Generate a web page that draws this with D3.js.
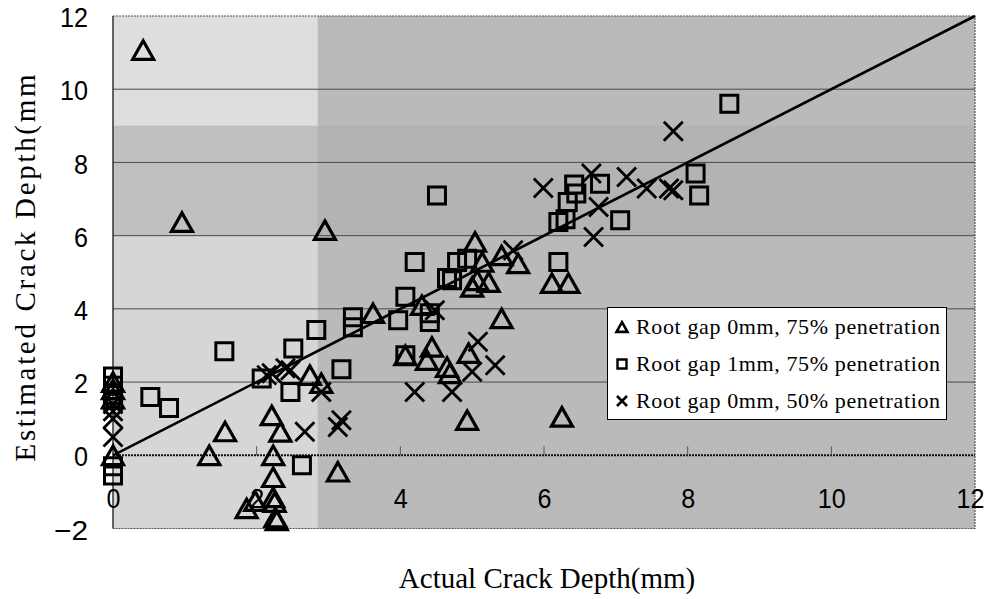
<!DOCTYPE html>
<html>
<head>
<meta charset="utf-8">
<script src="https://cdn.jsdelivr.net/npm/d3@7/dist/d3.min.js"></script>
<style>
body { margin: 0; background: #fff; }
.num { font-family: "Liberation Sans", Arial, sans-serif; font-size: 28px; fill: #000; }
.ser { font-family: "Liberation Serif", "Times New Roman", serif; fill: #000; }
</style>
</head>
<body>
<div id="chart"></div>
<script>
// axis ticks
var xTicks = [0, 2, 4, 6, 8, 10, 12];
var yTicks = [-2, 0, 2, 4, 6, 8, 10, 12];
var gridY = [2, 4, 6, 8, 10];

var xTitle = "Actual Crack Depth(mm)";
var yTitle = "Estimated Crack Depth(mm";
var seriesNames = ["Root gap 0mm, 75% penetration", "Root gap 1mm, 75% penetration", "Root gap 0mm, 50% penetration"];

// Root gap 0mm, 75% penetration (triangles)
var gap0p75 = [
	[0.42, 11.07], [0.96, 6.37], [2.95, 6.15],
	[0, 2.0], [0, 1.8], [0, 1.55], [0, 0],
	[1.56, 0.65], [1.34, 0.0], [2.21, 1.09], [2.33, 0.64], [2.23, 0.0], [2.23, -0.6],
	[2.23, -1.15], [2.25, -1.28], [2.26, -1.7], [2.28, -1.78], [1.86, -1.45], [1.98, -1.25],
	[2.74, 2.19], [2.9, 1.97], [3.13, -0.45], [3.62, 3.88],
	[5.04, 5.83], [5.14, 5.28], [5.07, 4.78], [5.0, 4.6], [5.23, 4.73], [5.41, 5.46], [5.64, 5.24],
	[6.11, 4.7], [6.34, 4.7], [4.3, 4.1], [5.41, 3.74],
	[4.07, 2.73], [4.44, 2.96], [4.37, 2.6], [4.65, 2.41], [4.69, 2.24], [4.95, 2.79],
	[4.93, 0.96], [6.25, 1.05]
];

// Root gap 1mm, 75% penetration (squares)
var gap1p75 = [
	[0, 2.15], [0, 1.9], [0, 1.65], [0, -0.3], [0, -0.55],
	[0.52, 1.59], [0.78, 1.29], [1.55, 2.84], [2.63, -0.27], [2.47, 1.73], [2.51, 2.92],
	[2.83, 3.42], [3.18, 2.35], [3.34, 3.77], [3.34, 3.5], [2.07, 2.1],
	[4.51, 7.1], [6.42, 7.4], [6.45, 7.15], [6.78, 7.42], [6.33, 6.92], [6.2, 6.37], [6.3, 6.45], [7.06, 6.42],
	[8.58, 9.6], [8.11, 7.7], [8.16, 7.1],
	[4.2, 5.28], [4.93, 5.37], [4.79, 5.28], [4.65, 4.84], [4.72, 4.78], [6.2, 5.28],
	[4.07, 4.33], [3.97, 3.69], [4.41, 3.88], [4.41, 3.64], [4.07, 2.73]
];

// Root gap 0mm, 50% penetration (crosses)
var gap0p50 = [
	[0, 1.4], [0, 1.2], [0, 1.0], [0, 0.5],
	[2.14, 2.19], [2.21, 2.24], [2.4, 2.38], [2.47, 2.32], [2.9, 1.73],
	[2.67, 0.64], [3.13, 0.77], [3.18, 0.96],
	[5.99, 7.3], [6.76, 6.78], [6.69, 5.96], [7.8, 8.85],
	[7.43, 7.29], [7.74, 7.29], [7.8, 7.24], [7.15, 7.6], [6.66, 7.7],
	[5.57, 5.6], [4.48, 3.96], [5.08, 3.1], [5.32, 2.46], [5.0, 2.28], [4.72, 1.73], [4.2, 1.73]
];

// y = x reference line
var fitLine = [[0, 0], [12, 12]];

// shaded background areas: [x0, x1, y0, y1]
var shadeAreas = [
	[0, 12, -2, 12],
	[0, 2.85, -2, 6],
	[0, 2.85, 9, 12],
	[0, 2.85, 6, 9],
	[2.85, 12, 6, 9]
];
var shadeFills = ["#bababa", "#d6d6d6", "#dedede", "#c0c0c0", "#b3b3b3"];

var W = 990, H = 599;
var svg = d3.select("#chart").append("svg").attr("width", W).attr("height", H);

var x = d3.scaleLinear().domain([0, 12]).range([113, 975]);
var y = d3.scaleLinear().domain([-2, 12]).range([528.5, 16]);

// background
svg.append("g").selectAll("rect").data(shadeAreas).enter().append("rect")
	.attr("x", function(d) { return x(d[0]); })
	.attr("y", function(d) { return y(d[3]); })
	.attr("width", function(d) { return x(d[1]) - x(d[0]); })
	.attr("height", function(d) { return y(d[2]) - y(d[3]); })
	.attr("fill", function(d, i) { return shadeFills[i]; });

// grid
svg.append("g").selectAll("line").data(gridY).enter().append("line")
	.attr("x1", x(0)).attr("x2", x(12))
	.attr("y1", function(d) { return y(d); }).attr("y2", function(d) { return y(d); })
	.attr("stroke", "#4a4a4a").attr("stroke-width", 1);

// frame
svg.append("path")
	.attr("d", "M" + x(0) + "," + y(12) + "H" + x(12) + "V" + y(-2) + "H" + x(0))
	.attr("fill", "none").attr("stroke", "#555").attr("stroke-width", 1.2).attr("stroke-dasharray", "2,1");
svg.append("line").attr("x1", x(0)).attr("x2", x(0)).attr("y1", y(12)).attr("y2", y(-2))
	.attr("stroke", "#333").attr("stroke-width", 1.5);

// x axis line at y = 0 with small upward ticks
svg.append("line").attr("x1", x(0)).attr("x2", x(12)).attr("y1", y(0)).attr("y2", y(0))
	.attr("stroke", "#111").attr("stroke-width", 2).attr("stroke-dasharray", "2,1");
svg.append("g").selectAll("line").data(xTicks.slice(1, -1)).enter().append("line")
	.attr("x1", function(d) { return x(d); }).attr("x2", function(d) { return x(d); })
	.attr("y1", y(0)).attr("y2", y(0) - 9)
	.attr("stroke", "#555").attr("stroke-width", 1);

// narrow digits, like the original gothic face
function squeeze(sel) {
	sel.attr("class", "num")
		.attr("lengthAdjust", "spacingAndGlyphs")
		.attr("textLength", function() {
			var t = this.textContent, w = 0;
			for (var i = 0; i < t.length; i++) w += (t[i] === "\u2212" ? 20 : 14);
			return w;
		});
}

// tick labels
var yAxis = svg.append("g").attr("transform", "translate(" + x(0) + ",0)")
	.call(d3.axisLeft(y).tickValues(yTicks).tickSize(0).tickPadding(25));
yAxis.select(".domain").remove();
yAxis.attr("font-size", null).attr("font-family", null);
yAxis.selectAll("text").attr("dy", "0.38em").call(squeeze);

var xAxis = svg.append("g").attr("transform", "translate(0," + y(0) + ")")
	.call(d3.axisBottom(x).tickValues(xTicks).tickSize(0).tickPadding(33));
xAxis.select(".domain").remove();
xAxis.attr("font-size", null).attr("font-family", null);
xAxis.selectAll("text").call(squeeze);
// keep the last label inside the page
xAxis.selectAll(".tick").filter(function(d) { return d === 12; }).select("text").attr("dx", -5);

// reference line
svg.append("path").datum(fitLine)
	.attr("d", d3.line().x(function(d) { return x(d[0]); }).y(function(d) { return y(d[1]); }))
	.attr("stroke", "#000").attr("stroke-width", 2.6).attr("fill", "none");

// markers
function triPath(s) { var h = s * 0.88; return "M0," + (-h / 2) + "L" + (s / 2) + "," + (h / 2) + "L" + (-s / 2) + "," + (h / 2) + "Z"; }
function sqPath(s) { return "M" + (-s / 2) + "," + (-s / 2) + "h" + s + "v" + s + "h" + (-s) + "Z"; }
function crossPath(s) { var a = s / 2; return "M" + (-a) + "," + (-a) + "L" + a + "," + a + "M" + a + "," + (-a) + "L" + (-a) + "," + a; }

var pts = svg.append("g");
function plotSeries(data, path, sw) {
	pts.append("g").selectAll("path").data(data).enter().append("path")
		.attr("transform", function(d) { return "translate(" + x(d[0]) + "," + y(d[1]) + ")"; })
		.attr("d", path)
		.attr("fill", "none").attr("stroke", "#000").attr("stroke-width", sw)
		.attr("stroke-linejoin", "miter");
}
plotSeries(gap1p75, sqPath(17), 3);
plotSeries(gap0p75, triPath(21), 3.2);
plotSeries(gap0p50, crossPath(19), 2.8);

// legend
var lg = svg.append("g");
lg.append("rect").attr("x", 607.5).attr("y", 307.5).attr("width", 339).attr("height", 112)
	.attr("fill", "#fff").attr("stroke", "#000").attr("stroke-width", 1);
var legPaths = [triPath(11), sqPath(9), crossPath(10)];
var legW = [2.6, 2.4, 2.6];
seriesNames.forEach(function(name, i) {
	var cy = 327 + i * 37;
	lg.append("path").attr("transform", "translate(622," + cy + ")").attr("d", legPaths[i])
		.attr("fill", "none").attr("stroke", "#000").attr("stroke-width", legW[i]);
	lg.append("text").attr("class", "ser").attr("x", 636).attr("y", cy + 7)
		.attr("font-size", 22).attr("textLength", 304).attr("lengthAdjust", "spacing").text(name);
});

// axis titles
svg.append("text").attr("class", "ser").attr("x", 547).attr("y", 588)
	.attr("text-anchor", "middle").attr("font-size", 29).text(xTitle);
svg.append("text").attr("class", "ser").attr("transform", "translate(35,268) rotate(-90)")
	.attr("text-anchor", "middle").attr("font-size", 29)
	.attr("textLength", 387).attr("lengthAdjust", "spacing").text(yTitle);
</script>
</body>
</html>
